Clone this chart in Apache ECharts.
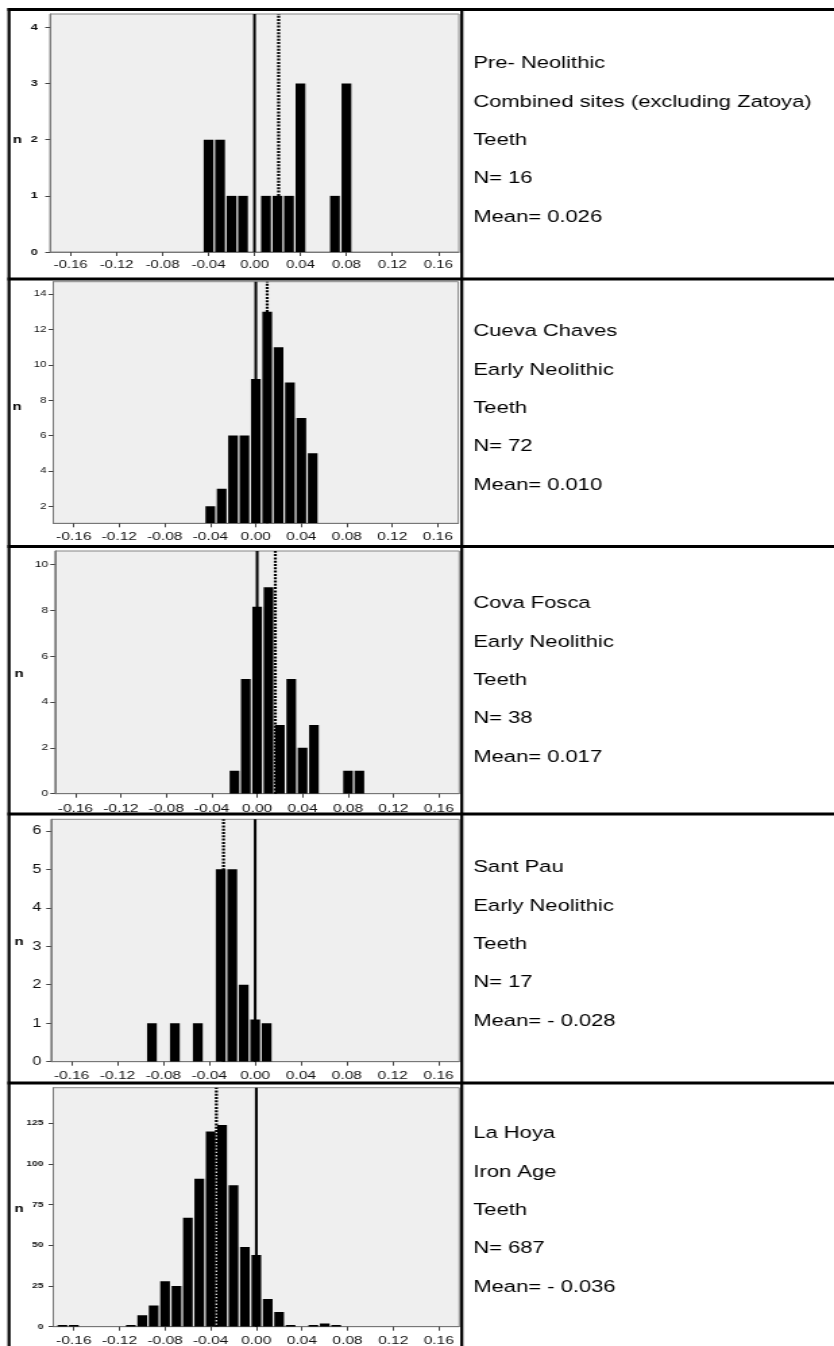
<!DOCTYPE html>
<html><head><meta charset="utf-8">
<script src="https://cdn.jsdelivr.net/npm/echarts@6/dist/echarts.min.js"></script>
<style>
html,body{margin:0;padding:0;background:#fff;overflow:hidden;}
#wrap{width:834px;height:1346px;overflow:hidden;position:relative;background:#fff;}
#chart{width:618px;height:1346px;transform:scaleX(1.34951);transform-origin:0 0;}
</style></head><body><div id="wrap"><div id="chart"></div></div>
<script>
// ---------------- data ----------------
const xTicks = [-0.16, -0.12, -0.08, -0.04, 0, 0.04, 0.08, 0.12, 0.16];

const bins1 = [-0.04, -0.03, -0.02, -0.01, 0.01, 0.02, 0.03, 0.04, 0.07, 0.08];
const counts1 = [2, 2, 1, 1, 1, 1, 1, 3, 1, 3];
const yTicks1 = [0, 1, 2, 3, 4];
const text1 = ['Pre- Neolithic', 'Combined sites (excluding Zatoya)', 'Teeth', 'N= 16', 'Mean= 0.026'];

const bins2 = [-0.04, -0.03, -0.02, -0.01, 0.00, 0.01, 0.02, 0.03, 0.04, 0.05];
const counts2 = [2, 3, 6, 6, 9.2, 13, 11, 9, 7, 5];
const yTicks2 = [2, 4, 6, 8, 10, 12, 14];
const text2 = ['Cueva Chaves', 'Early Neolithic', 'Teeth', 'N= 72', 'Mean= 0.010'];

const bins3 = [-0.02, -0.01, 0.00, 0.01, 0.02, 0.03, 0.04, 0.05, 0.08, 0.09];
const counts3 = [1, 5, 8.15, 9, 3, 5, 2, 3, 1, 1];
const yTicks3 = [0, 2, 4, 6, 8, 10];
const text3 = ['Cova Fosca', 'Early Neolithic', 'Teeth', 'N= 38', 'Mean= 0.017'];

const bins4 = [-0.09, -0.07, -0.05, -0.03, -0.02, -0.01, 0.00, 0.01];
const counts4 = [1, 1, 1, 5, 5, 2, 1.1, 1];
const yTicks4 = [0, 1, 2, 3, 4, 5, 6];
const text4 = ['Sant Pau', 'Early Neolithic', 'Teeth', 'N= 17', 'Mean= - 0.028'];

const bins5 = [-0.17, -0.16, -0.11, -0.10, -0.09, -0.08, -0.07, -0.06, -0.05, -0.04, -0.03, -0.02, -0.01, 0.00, 0.01, 0.02, 0.03, 0.05, 0.06, 0.07];
const counts5 = [1, 1, 1, 7, 13, 28, 25, 67, 91, 120, 124, 87, 49, 44, 17, 9, 1, 1, 2, 1];
const yTicks5 = [0, 25, 50, 75, 100, 125];
const text5 = ['La Hoya', 'Iron Age', 'Teeth', 'N= 687', 'Mean= - 0.036'];

const solidLineX = [0, 0, 0, 0, 0];
const dottedLineX = [0.021, 0.010, 0.016, -0.0276, -0.035];

// ---------------- layout ----------------
const SX = 834 / 618;
const L = v => v / SX;
const FONT = "'Liberation Sans', Arial, sans-serif";
const BIN = 0.01, GAP = 1.25;

const panels = [
  {bins: bins1, counts: counts1, yTicks: yTicks1, text: text1, ymin: 0, ymax: 4.24,
   box: [50, 459, 14, 252], xFont: 11, xMargin: 7, yFont: 9.5, yBold: true, yMargin: 9, nPos: [17.3, 140], textY: 64},
  {bins: bins2, counts: counts2, yTicks: yTicks2, text: text2, ymin: 1.04, ymax: 14.7,
   box: [53.3, 458.3, 281.7, 523.3], xFont: 11.5, xMargin: 8, yFont: 8.5, yBold: false, yMargin: 5, nPos: [17, 406.7], textY: 332},
  {bins: bins3, counts: counts3, yTicks: yTicks3, text: text3, ymin: 0, ymax: 10.58,
   box: [55, 459.3, 551, 793.7], xFont: 11.5, xMargin: 9.5, yFont: 9, yBold: false, yMargin: 5, nPos: [19, 674.3], textY: 604},
  {bins: bins4, counts: counts4, yTicks: yTicks4, text: text4, ymin: 0, ymax: 6.3,
   box: [51, 459.3, 819.3, 1061.7], xFont: 11.5, xMargin: 8.5, yFont: 12, yBold: false, yMargin: 7, nPos: [19, 942.3], textY: 868},
  {bins: bins5, counts: counts5, yTicks: yTicks5, text: text5, ymin: 0, ymax: 146.9,
   box: [53.3, 459.3, 1087.7, 1326.7], xFont: 11.5, xMargin: 8.5, yFont: 7.5, yBold: true, yMargin: 7.4, nPos: [19, 1209.3], textY: 1134}
];

const grid = [], xAxis = [], yAxis = [], series = [], graphic = [];

panels.forEach((p, i) => {
  const [l, r, t, b] = p.box;
  grid.push({left: L(l), width: L(r - l), top: t, height: b - t, show: true,
    backgroundColor: '#efefef', borderColor: '#858585', borderWidth: 1,
    containLabel: false, outerBoundsMode: 'none'});
  xAxis.push({type: 'value', gridIndex: i, min: -0.178, max: 0.178,
    splitLine: {show: false},
    axisLine: {show: true, onZero: false, lineStyle: {color: '#777', width: 1}},
    axisTick: {show: true, customValues: xTicks, length: 4, lineStyle: {color: '#444'}},
    axisLabel: {customValues: xTicks, formatter: v => v.toFixed(2), fontSize: p.xFont,
      fontFamily: FONT, color: '#111', margin: p.xMargin}});
  yAxis.push({type: 'value', gridIndex: i, min: p.ymin, max: p.ymax,
    splitLine: {show: false},
    axisLine: {show: true, onZero: false, lineStyle: {color: '#777', width: 1}},
    axisTick: {show: true, customValues: p.yTicks, length: 3.5, lineStyle: {color: '#444'}},
    axisLabel: {customValues: p.yTicks, fontSize: p.yFont, fontWeight: p.yBold ? 'bold' : 'normal',
      fontFamily: FONT, color: '#111', margin: p.yMargin}});
  const ymin = p.ymin;
  series.push({type: 'custom', xAxisIndex: i, yAxisIndex: i, clip: true, z: 2, silent: true,
    data: p.bins.map((bv, k) => [bv, p.counts[k]]),
    renderItem: (params, api) => {
      const x = api.value(0), y = api.value(1);
      const tl = api.coord([x - BIN / 2, y]);
      const br = api.coord([x + BIN / 2, ymin]);
      return {type: 'rect', shape: {x: tl[0] + GAP / 2, y: tl[1], width: br[0] - tl[0] - GAP, height: br[1] - tl[1]},
        style: {fill: '#000'}};
    }});
  series.push({type: 'line', xAxisIndex: i, yAxisIndex: i, z: 3, silent: true, symbol: 'none',
    data: [[solidLineX[i], p.ymin], [solidLineX[i], p.ymax]],
    lineStyle: {color: '#000', width: 2, type: 'solid'}});
  series.push({type: 'line', xAxisIndex: i, yAxisIndex: i, z: 3, silent: true, symbol: 'none',
    data: [[dottedLineX[i], p.ymin], [dottedLineX[i], p.ymax]],
    lineStyle: {color: '#000', width: 2.2, type: [2, 1.3]}});
  // axis name "n"
  graphic.push({type: 'text', x: L(p.nPos[0]), y: p.nPos[1], z: 10,
    style: {text: 'n', fontSize: 11, fontWeight: 'bold', fontFamily: FONT, fill: '#000', align: 'center', verticalAlign: 'middle'}});
  // right column text
  p.text.forEach((s, k) => {
    graphic.push({type: 'text', x: L(473.3), y: p.textY + k * 38.3, z: 10,
      style: {text: s, fontSize: 16.3, fontFamily: FONT, fill: '#000', align: 'left', verticalAlign: 'middle'}});
  });
});

// table borders
const hLines = [9.5, 279, 546.5, 814, 1083];
hLines.forEach(y => graphic.push({type: 'line', z: 20, shape: {x1: L(7.5), y1: y, x2: 618, y2: y},
  style: {stroke: '#000', lineWidth: 3}}));
[9, 461.8].forEach(x => graphic.push({type: 'line', z: 20, shape: {x1: L(x), y1: 8, x2: L(x), y2: 1346},
  style: {stroke: '#000', lineWidth: L(3)}}));

const chart = echarts.init(document.getElementById('chart'), null, {renderer: 'canvas'});
chart.setOption({animation: false, backgroundColor: '#fff', textStyle: {fontFamily: FONT},
  grid, xAxis, yAxis, series, graphic});
</script></body></html>
